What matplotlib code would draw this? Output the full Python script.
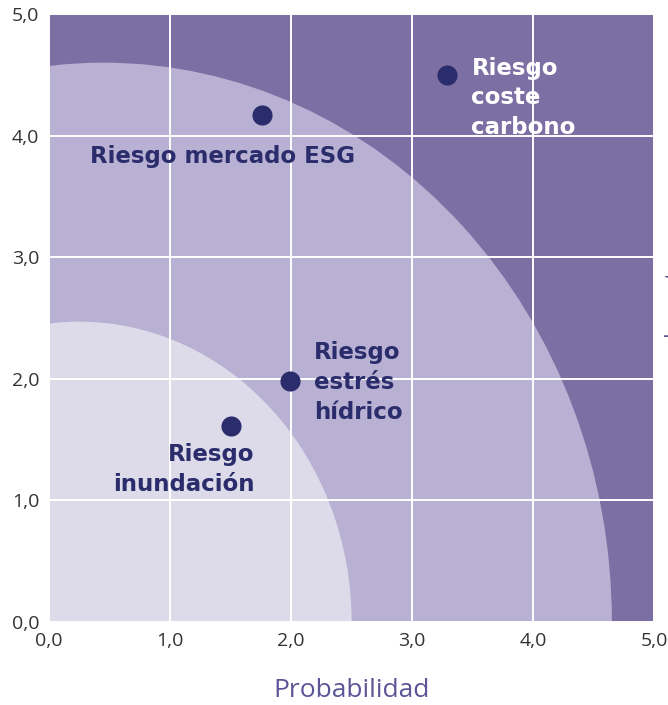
import matplotlib.pyplot as plt
from matplotlib.patches import Ellipse

# ==================================================
# DATA
# ==================================================
risk_names = ["Riesgo mercado ESG", "Riesgo\ncoste\ncarbono", "Riesgo\nestrés\nhídrico", "Riesgo\ninundación"]
probabilidad = [1.76, 3.29, 1.99, 1.50]
impacto = [4.17, 4.50, 1.98, 1.61]

tick_values = [0, 1, 2, 3, 4, 5]
tick_labels = ["0,0", "1,0", "2,0", "3,0", "4,0", "5,0"]

# zones: (center x, semi-axis x, semi-axis y)
zone_mid = (0.45, 4.2, 4.6)
zone_low = (0.25, 2.25, 2.47)

# ==================================================
# COLORS
# ==================================================
c_high = "#7b6fa4"
c_mid = "#b9b1d3"
c_low = "#dddbe9"
c_point = "#2a2c6c"
c_axis_label = "#5b5497"

plt.rcParams['font.family'] = ['Open Sans', 'DejaVu Sans']
label_font = ['DejaVu Sans']

fig = plt.figure(figsize=(6.68, 7.05), dpi=100)
ax = fig.add_axes([0.0734, 0.1177, 0.906, 0.8624])
ax.set_facecolor(c_high)

for (cx, a, b), col in [(zone_mid, c_mid), (zone_low, c_low)]:
    ax.add_patch(Ellipse((cx, 0), 2 * a, 2 * b, facecolor=col, edgecolor="none", zorder=1))

ax.set_xlim(0, 5)
ax.set_ylim(0, 5)
ax.set_xticks(tick_values)
ax.set_yticks(tick_values)
ax.set_xticklabels(tick_labels)
ax.set_yticklabels(tick_labels)
ax.grid(True, color="white", linewidth=1.4, zorder=2)
ax.set_axisbelow(False)
for s in ax.spines.values():
    s.set_visible(False)
ax.tick_params(length=0, labelsize=14, colors="#333333", pad=7)

ax.scatter(probabilidad, impacto, s=210, color=c_point, zorder=4, linewidths=0)

# labels
lab_kw = dict(fontsize=16.5, fontweight="bold", family=label_font, zorder=5, linespacing=1.38)
ax.text(probabilidad[0] - 0.33, impacto[0] - 0.34, risk_names[0], ha="center", va="center",
        color=c_point, **lab_kw)
ax.text(probabilidad[1] + 0.2, impacto[1] + 0.15, risk_names[1], ha="left", va="top",
        color="white", **lab_kw)
ax.text(probabilidad[2] + 0.2, impacto[2] + 0.33, risk_names[2], ha="left", va="top",
        color=c_point, **lab_kw)
ax.text(probabilidad[3] + 0.2, impacto[3] - 0.14, risk_names[3], ha="right", va="top",
        color=c_point, **lab_kw)

ax.set_xlabel("Probabilidad", fontsize=19, color=c_axis_label, labelpad=20)

# right-hand axis title, mostly cut off by the figure edge
fig.text(0.992, 0.58, "Impacto", rotation=90, ha="left", va="center",
         fontsize=15, color=c_axis_label)

fig.savefig("out.png", dpi=100)
